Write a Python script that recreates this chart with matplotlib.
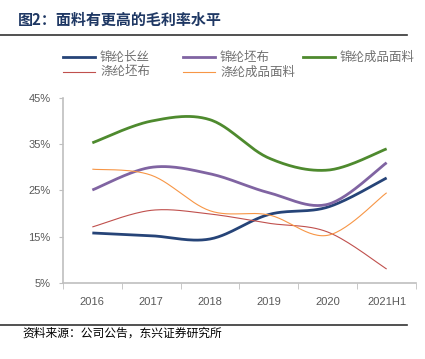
import numpy as np
import matplotlib
matplotlib.use('Agg')
import matplotlib.pyplot as plt
from matplotlib.lines import Line2D

plt.rcParams['font.family'] = ['Noto Sans CJK SC', 'DejaVu Sans']

years = ['2016', '2017', '2018', '2019', '2020', '2021H1']
nylon_filament = [15.8, 15.2, 14.5, 19.8, 21.4, 27.7]
nylon_grey = [25.1, 30.0, 28.6, 24.5, 22.0, 31.0]
nylon_fabric = [35.3, 40.0, 40.3, 32.0, 29.4, 34.0]
poly_grey = [17.1, 20.7, 19.9, 17.9, 16.0, 8.0]
poly_fabric = [29.6, 28.3, 20.6, 19.7, 15.3, 24.5]

series = [
    ('锦纶长丝', nylon_filament, '#264478', 2.0),
    ('锦纶坯布', nylon_grey, '#8064a2', 2.0),
    ('锦纶成品面料', nylon_fabric, '#4e8a2e', 2.0),
    ('涤纶坯布', poly_grey, '#c0504d', 0.8),
    ('涤纶成品面料', poly_fabric, '#f79646', 0.8),
]


def smooth(xs, ys, n=30):
    # excel-like smoothed line: bezier segments with catmull-rom control points
    xs = np.asarray(xs, float)
    ys = np.asarray(ys, float)
    px = np.concatenate([[xs[0]], xs, [xs[-1]]])
    py = np.concatenate([[ys[0]], ys, [ys[-1]]])
    ox, oy = [], []
    t = np.linspace(0, 1, n)
    for i in range(1, len(px) - 2):
        p0 = np.array([px[i], py[i]])
        p3 = np.array([px[i + 1], py[i + 1]])
        c1 = p0 + (np.array([px[i + 1], py[i + 1]]) - np.array([px[i - 1], py[i - 1]])) / 6
        c2 = p3 - (np.array([px[i + 2], py[i + 2]]) - np.array([px[i], py[i]])) / 6
        b = ((1 - t) ** 3)[:, None] * p0 + (3 * (1 - t) ** 2 * t)[:, None] * c1 \
            + (3 * (1 - t) * t ** 2)[:, None] * c2 + (t ** 3)[:, None] * p3
        ox.extend(b[:, 0])
        oy.extend(b[:, 1])
    return ox, oy


W, H = 425, 359
fig = plt.figure(figsize=(W / 100, H / 100), dpi=100)
ax = fig.add_axes([0.148, 0.212, 0.831, 0.515])

x = np.arange(len(years))
for name, vals, color, lw in series:
    sx, sy = smooth(x, vals)
    ax.plot(sx, sy, color=color, lw=lw, solid_capstyle='butt')

ax.set_xlim(-0.5, len(years) - 0.5)
ax.set_ylim(5, 45)
ax.set_yticks([5, 15, 25, 35, 45])
ax.set_yticklabels([f'{v}%' for v in [5, 15, 25, 35, 45]])
ax.set_xticks(x)
ax.set_xticklabels(years)
ax.set_xticks(np.arange(-0.5, len(years), 1), minor=True)
ax.tick_params(axis='x', which='major', length=0, pad=10)
ax.tick_params(axis='x', which='minor', length=4, color='#bfbfbf')
ax.tick_params(axis='y', length=3, color='#bfbfbf', pad=6)
ax.tick_params(labelsize=8, labelcolor='#595959')
for lab in ax.get_xticklabels() + ax.get_yticklabels():
    lab.set_family(['Liberation Sans', 'DejaVu Sans'])
for s in ['top', 'right']:
    ax.spines[s].set_visible(False)
for s in ['left', 'bottom']:
    ax.spines[s].set_color('#bfbfbf')
    ax.spines[s].set_linewidth(1.2)

# legend laid out like the excel one: fixed column slots
slots = [(63, 57), (183, 57), (303, 57), (63, 72), (183, 72)]
for (px0, py0), (name, vals, color, lw) in zip(slots, series):
    yy = 1 - py0 / H
    fig.add_artist(Line2D([px0 / W, (px0 + 32) / W], [yy, yy], color=color, lw=lw))
    fig.text((px0 + 37) / W, yy, name, fontsize=9, color='#707070', va='center')

fig.text(0.042, 0.945, '图2：面料有更高的毛利率水平', fontsize=10.8, fontweight='bold',
         color='#1f3864', va='center')
fig.add_artist(Line2D([0, 0.958], [0.903, 0.903], color='#333333', lw=1.2))
fig.add_artist(Line2D([0, 0.958], [0.094, 0.094], color='#333333', lw=1.2))
fig.text(0.052, 0.072, '资料来源：公司公告，东兴证券研究所', fontsize=8.5, color='#000000',
         va='center', style='italic')

fig.savefig('out.png', dpi=100)
